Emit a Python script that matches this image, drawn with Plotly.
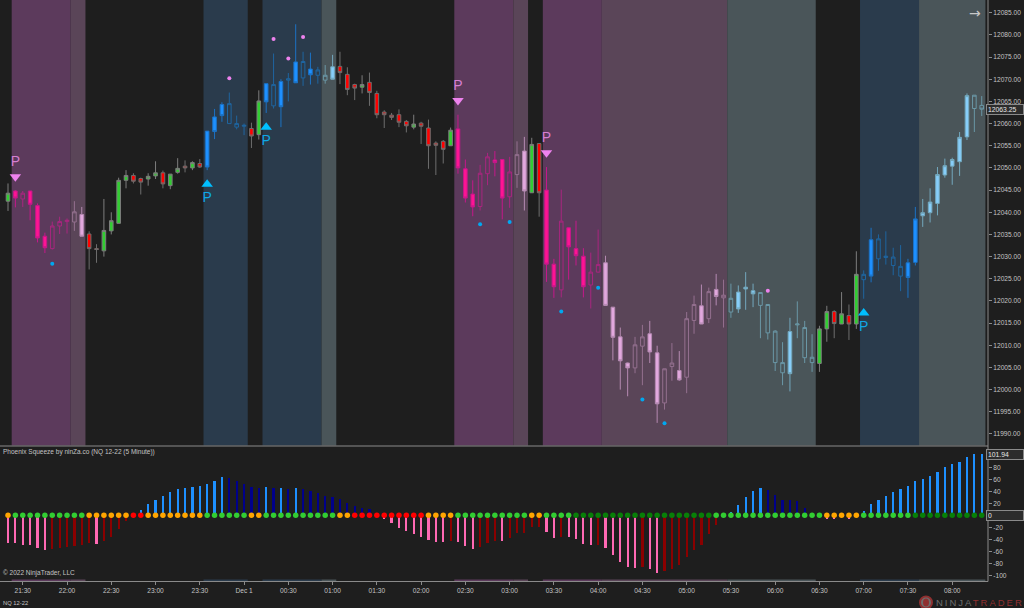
import plotly.graph_objects as go

# bar index -> 5 minute bars, 21:15 to 08:20
opens = [12042.5, 12044.8, 12043.0, 12044.8, 12041.5, 12034.6, 12031.8, 12036.9, 12037.9, 12037.8, 12039.5,
         12035.1, 12031.8, 12031.3, 12035.8, 12037.5, 12047.2, 12048.3, 12047.6, 12047.5, 12048.2, 12048.9,
         12046.0, 12049.0, 12050.4, 12050.0, 12051.0, 12058.3, 12061.5, 12064.3, 12060.0, 12059.2, 12059.4,
         12058.9, 12057.5, 12069.0, 12064.0, 12069.5, 12069.8, 12073.9, 12070.3, 12072.3, 12070.9, 12069.8,
         12072.8, 12072.9, 12071.1, 12068.8, 12068.2, 12069.3, 12066.8, 12062.6, 12061.9, 12062.0, 12060.5,
         12059.2, 12060.1, 12059.0, 12055.6, 12056.0, 12055.0, 12058.8, 12049.8, 12044.1, 12041.3, 12048.7,
         12051.8, 12051.9, 12043.5, 12048.5, 12053.8, 12044.4, 12055.5, 12045.0, 12028.3, 12022.5, 12036.5,
         12031.8, 12030.1, 12023.6, 12026.5, 12028.6, 12018.6, 12011.9, 12006.0, 12004.9, 12009.8, 12012.6,
         12008.3, 11997.0, 12005.2, 12004.3, 12002.8, 12015.6, 12018.9, 12016.0, 12022.6, 12020.7, 12017.5,
         12022.0, 12023.1, 12022.3, 12019.0, 12012.8, 12006.1, 12003.8, 12013.1, 12014.6, 12007.2, 12006.1,
         12005.9, 12013.7, 12017.6, 12014.8, 12016.7, 12014.8, 12024.8, 12033.8, 12029.5, 12029.8, 12028.0,
         12025.6, 12028.6, 12028.7, 12039.2, 12039.9, 12042.0, 12048.4, 12050.4, 12051.4, 12057.0, 12063.4,
         12064.1]
highs = [12046.5, 12045.0, 12044.8, 12044.8, 12042.0, 12035.4, 12037.9, 12039.0, 12038.6, 12042.5, 12041.2,
         12035.7, 12032.8, 12043.0, 12040.0, 12047.8, 12049.5, 12048.8, 12047.8, 12048.8, 12051.5, 12049.4,
         12048.6, 12052.2, 12051.7, 12051.5, 12052.0, 12058.3, 12063.3, 12064.8, 12067.0, 12061.8, 12060.0,
         12060.2, 12067.5, 12069.0, 12075.8, 12070.0, 12071.4, 12082.4, 12076.2, 12076.0, 12072.8, 12073.2,
         12075.5, 12076.2, 12072.7, 12069.0, 12070.9, 12071.5, 12067.4, 12063.0, 12062.4, 12063.2, 12060.8,
         12062.0, 12060.4, 12060.9, 12056.0, 12056.3, 12059.1, 12062.0, 12051.9, 12047.2, 12050.7, 12053.4,
         12053.8, 12051.9, 12052.5, 12056.0, 12057.0, 12056.8, 12055.5, 12050.2, 12029.5, 12045.1, 12036.6,
         12038.1, 12031.9, 12030.9, 12036.1, 12030.2, 12018.6, 12014.0, 12006.1, 12011.9, 12014.6, 12015.5,
         12009.9, 12004.7, 12010.5, 12008.7, 12017.5, 12021.2, 12023.7, 12023.0, 12026.1, 12024.8, 12023.9,
         12023.5, 12026.5, 12023.9, 12021.9, 12019.2, 12013.4, 12010.7, 12016.2, 12019.9, 12015.5, 12012.5,
         12014.4, 12018.9, 12017.9, 12022.0, 12019.2, 12031.2, 12026.9, 12036.5, 12035.0, 12035.7, 12032.0,
         12032.6, 12029.5, 12041.2, 12043.0, 12045.4, 12050.2, 12052.1, 12052.3, 12058.1, 12066.8, 12066.4,
         12066.2]
lows = [12040.3, 12041.1, 12041.2, 12038.2, 12033.2, 12030.8, 12031.6, 12035.1, 12035.2, 12035.8, 12034.6,
        12027.1, 12028.6, 12030.0, 12035.0, 12037.5, 12045.4, 12046.5, 12044.0, 12046.0, 12047.5, 12045.4,
        12045.2, 12048.7, 12049.0, 12049.5, 12050.0, 12049.5, 12056.5, 12060.4, 12060.0, 12058.7, 12057.4,
        12054.5, 12056.4, 12062.4, 12063.4, 12059.2, 12065.0, 12069.2, 12068.5, 12068.8, 12069.0, 12069.0,
        12070.0, 12068.9, 12066.4, 12065.3, 12066.8, 12064.0, 12061.2, 12059.0, 12060.8, 12059.2, 12058.0,
        12058.7, 12055.4, 12049.8, 12048.4, 12051.0, 12055.0, 12048.7, 12042.2, 12039.1, 12040.4, 12046.1,
        12048.1, 12038.4, 12041.0, 12045.5, 12040.4, 12044.4, 12039.0, 12024.3, 12020.7, 12020.8, 12024.8,
        12028.0, 12020.8, 12018.3, 12026.4, 12019.0, 12006.6, 12000.0, 11998.5, 12003.7, 12001.0, 12006.0,
        11992.5, 11995.5, 12002.0, 12002.0, 11999.2, 12012.6, 12014.8, 12015.0, 12019.0, 12014.0, 12016.2,
        12017.3, 12018.0, 12018.6, 12011.6, 12011.3, 12004.2, 12001.0, 11999.6, 12011.6, 12006.0, 12004.0,
        12004.0, 12010.8, 12011.6, 12014.8, 12011.2, 12013.7, 12020.5, 12024.2, 12026.8, 12028.2, 12025.8,
        12022.2, 12020.7, 12028.0, 12036.7, 12037.7, 12039.3, 12047.8, 12046.2, 12048.2, 12056.3, 12058.1,
        12061.7]
closes = [12044.3, 12043.2, 12044.3, 12041.8, 12034.2, 12032.0, 12036.9, 12037.9, 12038.2, 12040.1, 12034.6,
          12031.8, 12031.6, 12035.9, 12038.1, 12047.2, 12048.3, 12047.0, 12046.8, 12048.1, 12048.9, 12046.4,
          12048.6, 12049.9, 12050.0, 12051.2, 12050.2, 12050.2, 12058.2, 12061.8, 12064.5, 12060.0, 12059.6,
          12057.2, 12065.1, 12064.9, 12068.8, 12063.8, 12070.1, 12069.2, 12074.0, 12071.0, 12072.1, 12070.9,
          12070.0, 12071.5, 12067.7, 12068.0, 12068.8, 12067.0, 12062.0, 12062.0, 12061.4, 12060.3, 12059.5,
          12059.9, 12059.4, 12055.0, 12055.1, 12054.2, 12058.5, 12050.0, 12043.2, 12041.2, 12048.8, 12052.5,
          12051.2, 12043.2, 12049.1, 12053.0, 12044.8, 12055.3, 12044.4, 12028.3, 12023.2, 12038.0, 12032.2,
          12030.2, 12023.2, 12026.5, 12028.2, 12019.0, 12011.8, 12006.5, 12004.9, 12010.1, 12011.9, 12008.5,
          11996.8, 12004.7, 12006.0, 12002.2, 12016.0, 12019.2, 12014.8, 12022.1, 12021.0, 12021.3, 12020.6,
          12018.2, 12022.7, 12021.6, 12021.9, 12019.2, 12013.2, 12006.1, 12003.6, 12014.8, 12014.0, 12007.3,
          12013.7, 12017.6, 12014.9, 12017.1, 12014.8, 12026.0, 12026.0, 12025.6, 12034.0, 12030.1, 12029.9,
          12027.8, 12025.3, 12038.5, 12039.9, 12042.3, 12048.5, 12050.5, 12051.9, 12056.9, 12066.3, 12066.4,
          12063.25]
# G green R red P pink p pink hollow M mauve m mauve hollow B blue b blue hollow S sky s sky hollow
bar_state = list("GPpPPPpppm" "MRRGGGGRRG" "GRGGRGRBBB" "bbbRGBbBbB" "bBbsSRRRGR"
                 "RRRRRGRRRR" "GPPPppPPpm" "MGRPPpPPPp" "pMMMMmmMMm" "mMmmMmMmsS"
                 "SSssssSsss" "GGRGRGbBbb" "bbBBSSSSSS" "Sss")

tick_bars = list(range(2, 133, 6))
tick_text = ["21:30", "22:00", "22:30", "23:00", "23:30", "Dec 1", "00:30", "01:00", "01:30", "02:00", "02:30",
             "03:00", "03:30", "04:00", "04:30", "05:00", "05:30", "06:00", "06:30", "07:00", "07:30", "08:00"]

# shaded zones: first bar edge, last bar edge, kind
zone_start = [0.5, 8.5, 26.5, 34.5, 42.5, 60.5, 68.5, 72.5, 80.5, 97.5, 115.5, 123.5]
zone_end = [8.5, 10.5, 32.5, 42.5, 44.5, 68.5, 70.5, 80.5, 97.5, 109.5, 123.5, 132.5]
zone_kind = ["bear", "bear_weak", "bull", "bull", "bull_weak", "bear", "bear_weak", "bear", "bear_weak",
             "bull_weak", "bull", "bull_weak"]

sell_bars = [1, 61, 73]
sell_prices = [12048.0, 12065.2, 12053.4]
buy_bars = [27, 35, 116]
buy_prices = [12046.3, 12059.2, 12017.3]
hi_dot_bars = [30, 36, 38, 40, 103]
hi_dot_prices = [12070.25, 12079.1, 12074.7, 12079.5, 12022.3]
lo_dot_bars = [6, 64, 68, 75, 80, 86, 89]
lo_dot_prices = [12028.4, 12037.3, 12037.8, 12017.6, 12023.0, 11997.8, 11992.4]

hist_vals = [-45.6, -46.7, -49, -49.4, -54, -58, -56, -54, -52.8, -50.6, -49.4, -46, -47.8, -42.8, -36, -22.8, -10,
             0.5, 9.4, 18.3, 26, 31.7, 38.3, 43.3, 45.6, 47.8, 48.3, 52.8, 57.8, 63.9, 62.2, 57.8, 52.8, 46.7, 45,
             47.8, 45, 45, 43.9, 45.6, 43.3, 40.6, 37.2, 32.8, 30, 26.7, 20, 16, 12.8, 10.6, -0.5, -5.6, -12.2, -21,
             -26.7, -30.6, -35.6, -40.6, -43.9, -43.9, -42.2, -44.4, -50.6, -56, -53.3, -46.7, -42.2, -42.8, -37.2,
             -29.4, -28.9, -20, -18.9, -27.2, -37.2, -35.6, -36, -39.4, -47.2, -49.4, -48.9, -55, -66, -78.3, -86,
             -87.8, -86, -88.9, -95.6, -92.8, -89.4, -82.8, -70, -57.2, -50, -31.7, -16, 0.4, 5.6, 17.2, 31, 40, 45,
             42.2, 33.9, 25.6, 25.6, 23.9, 12.2, 0.4, -0.4, -6.7, -7, -0.5, -7, 0.5, 7.8, 19.4, 26, 32.8, 39.4, 43.3,
             48.3, 56.7, 61, 65.6, 72.8, 81, 85.6, 88.3, 96.7, 101.7, 101.94]
hist_state = list("P" * 6 + "R" * 6 + "P" + "R" * 4 + "B" * 13 + "N" * 5 + "BNBNB" + "N" * 10 + "R" + "P" * 9 + "R"
                  + "PPP" + "RRR" + "P" + "R" * 5 + "PP" + "R" + "PPPP" + "R" + "P" * 5 + "R" + "PP" + "R" * 8
                  + "B" * 6 + "N" * 6 + "B" + "P" * 5 + "B" * 18)
dot_state = list("o" + "g" * 10 + "o" * 6 + "rr" + "o" * 8 + "g" * 6 + "oo" + "g" * 10 + "oo" + "r" * 10 + "o" * 4
                 + "g" * 10 + "oo" + "g" * 4 + "d" * 19 + "g" * 15 + "o" * 5 + "g" * 7 + "d" * 10)

n_bars = len(closes)
assert {len(opens), len(highs), len(lows), len(bar_state), len(hist_vals), len(hist_state), len(dot_state)} == {n_bars}

FONT = "Liberation Sans"
BG = "#1e1e1e"
AXIS = "#8a8a8a"
LABEL = "#c4c4c4"
candle_style = {
    "G": ("#7d7d7d", "#32cd32"),
    "R": ("#6e6e6e", "#ff0000"),
    "P": ("#c4188a", "#ff1493"),
    "p": ("#a8267f", "rgba(0,0,0,0)"),
    "M": ("#b58ab2", "#e2a8de"),
    "m": ("#94708f", "rgba(0,0,0,0)"),
    "B": ("#1c72c4", "#1e90ff"),
    "b": ("#1f659f", "rgba(0,0,0,0)"),
    "S": ("#73a8bd", "#87cefa"),
    "s": ("#6a97a6", "rgba(0,0,0,0)"),
}
zone_fill = {"bear": "#5c3a5c", "bear_weak": "#5a4558", "bull": "#2a3b4c", "bull_weak": "#4a5559"}
hist_fill = {"B": "#1e90ff", "N": "#00008b", "P": "#ff69b4", "R": "#8b0000"}
dot_fill = {"o": "#ffa500", "g": "#32cd32", "d": "#087f08", "r": "#ff0000"}

fig = go.Figure()

# price pane
for state, (line, fill) in candle_style.items():
    idx = [i for i in range(n_bars) if bar_state[i] == state]
    fig.add_trace(go.Candlestick(
        x=idx,
        open=[opens[i] for i in idx], high=[highs[i] for i in idx],
        low=[lows[i] for i in idx], close=[closes[i] for i in idx],
        increasing=dict(line=dict(color=line, width=1), fillcolor=fill),
        decreasing=dict(line=dict(color=line, width=1), fillcolor=fill),
        whiskerwidth=0, showlegend=False, xaxis="x", yaxis="y",
    ))

fig.add_trace(go.Scatter(x=sell_bars, y=sell_prices, mode="markers+text", text=["P"] * 3,
                         textposition="top center", textfont=dict(family=FONT, size=14, color="#d67fd2"),
                         marker=dict(symbol="triangle-down", size=10, color="#ee82ee"),
                         showlegend=False, xaxis="x", yaxis="y"))
fig.add_trace(go.Scatter(x=buy_bars, y=buy_prices, mode="markers+text", text=["P"] * 3,
                         textposition="bottom center", textfont=dict(family=FONT, size=14, color="#0fa8e6"),
                         marker=dict(symbol="triangle-up", size=10, color="#00bfff"),
                         showlegend=False, xaxis="x", yaxis="y"))
fig.add_trace(go.Scatter(x=hi_dot_bars, y=hi_dot_prices, mode="markers", marker=dict(size=4, color="#ee82ee"),
                         showlegend=False, xaxis="x", yaxis="y"))
fig.add_trace(go.Scatter(x=lo_dot_bars, y=lo_dot_prices, mode="markers", marker=dict(size=4, color="#00a8f0"),
                         showlegend=False, xaxis="x", yaxis="y"))

# squeeze pane
fig.add_trace(go.Bar(x=list(range(n_bars)), y=hist_vals, width=0.3,
                     marker=dict(color=[hist_fill[s] for s in hist_state], line_width=0),
                     showlegend=False, xaxis="x2", yaxis="y2"))
fig.add_trace(go.Scatter(x=list(range(n_bars)), y=[0] * n_bars, mode="markers",
                         marker=dict(size=5.5, color=[dot_fill[s] for s in dot_state]),
                         showlegend=False, xaxis="x2", yaxis="y2"))

shapes = []
for start, end, kind in zip(zone_start, zone_end, zone_kind):
    shapes.append(dict(type="rect", xref="x", yref="paper", x0=start, x1=end, y0=1 - 445.5 / 608, y1=1,
                       fillcolor=zone_fill[kind], line_width=0, layer="below"))
    shapes.append(dict(type="rect", xref="x", yref="paper", x0=start, x1=end, y0=1 - 581 / 608, y1=1 - 579.5 / 608,
                       fillcolor=zone_fill[kind], line_width=0, layer="below"))
# pane frames
shapes.append(dict(type="line", xref="paper", yref="paper", x0=0, x1=988 / 1024, y0=1 - 446 / 608, y1=1 - 446 / 608,
                   line=dict(color=AXIS, width=1)))
shapes.append(dict(type="line", xref="paper", yref="paper", x0=0, x1=988 / 1024, y0=1 - 581.5 / 608, y1=1 - 581.5 / 608,
                   line=dict(color=AXIS, width=1)))
shapes.append(dict(type="line", xref="paper", yref="paper", x0=988 / 1024, x1=988 / 1024, y0=1 - 581.5 / 608, y1=1,
                   line=dict(color=AXIS, width=1)))
# logo mark
shapes.append(dict(type="circle", xref="paper", yref="paper", x0=920 / 1024, x1=932 / 1024,
                   y0=1 - 608.5 / 608, y1=1 - 596.5 / 608, fillcolor="#6e6e6e", line=dict(color="#8f3030", width=2)))
shapes.append(dict(type="circle", xref="paper", yref="paper", x0=923 / 1024, x1=929 / 1024,
                   y0=1 - 606.5 / 608, y1=1 - 598.5 / 608, fillcolor="#8f3030", line_width=0))


def note(text, x, y, size=6.5, color=LABEL, anchor="left", family=FONT):
    return dict(text=text, xref="paper", yref="paper", x=x / 1024, y=1 - y / 608, xanchor=anchor, yanchor="middle",
                showarrow=False, font=dict(family=family, size=size, color=color))


def tag(text, yref, y):
    return dict(text=text, xref="paper", yref=yref, x=1, y=y, xanchor="right", yanchor="middle", showarrow=False,
                font=dict(family=FONT, size=6.8, color="#e6e6e6"), bgcolor="#2c2c2c", bordercolor="#8a8a8a",
                borderwidth=1, borderpad=1, width=34, align="left")


annotations = [
    note("Phoenix Squeeze by ninZa.co (NQ 12-22 (5 Minute))", 1, 452.5),
    note("© 2022 NinjaTrader, LLC", 1, 573),
    note("NQ 12-22", 1, 602.5, size=5.8),
    note("→", 975, 12.5, size=14, color="#c8c8c8", anchor="center", family="DejaVu Sans"),
    note('<span style="color:#6e6e6e;letter-spacing:2px">NINJA</span>'
         '<span style="color:#8f3030;letter-spacing:2px">TRADER</span>', 934, 602.5, size=9.5),
    tag("12063.25", "y", closes[-1]),
    tag("101.94", "y2", hist_vals[-1]),
    tag("0", "y2", 0),
]

fig.update_layout(
    width=1024, height=608, margin=dict(l=0, r=0, t=0, b=0),
    paper_bgcolor=BG, plot_bgcolor=BG, font=dict(family=FONT, size=6.5, color=LABEL),
    showlegend=False, boxmode="overlay", bargap=0,
    shapes=shapes, annotations=annotations,
    xaxis=dict(domain=[0, 988 / 1024], range=[-1.085, 132.85], anchor="y", showticklabels=False, showgrid=False,
               zeroline=False, rangeslider=dict(visible=False), ticks=""),
    yaxis=dict(domain=[1 - 445.5 / 608, 1], range=[11987.4, 12087.87], side="right", anchor="x",
               tickvals=list(range(11990, 12086, 5)), ticktext=[f"{v}.00" for v in range(11990, 12086, 5)],
               showgrid=False, zeroline=False, ticks="outside", ticklen=3, tickcolor=AXIS,
               tickfont=dict(family=FONT, size=6.6, color=LABEL)),
    xaxis2=dict(domain=[0, 988 / 1024], range=[-1.085, 132.85], anchor="y2", tickvals=tick_bars, ticktext=tick_text,
                showgrid=False, zeroline=False, ticks="outside", ticklen=3, tickcolor=AXIS,
                tickfont=dict(family=FONT, size=6.6, color=LABEL)),
    yaxis2=dict(domain=[1 - 581 / 608, 1 - 447 / 608], range=[-109.5, 113.8], side="right", anchor="x2",
                tickvals=list(range(-100, 81, 20)),
                ticktext=[str(v) if v else "" for v in range(-100, 81, 20)],
                showgrid=False, zeroline=False, ticks="outside", ticklen=3, tickcolor=AXIS,
                tickfont=dict(family=FONT, size=6.6, color=LABEL)),
)

fig.write_html("out.html", config={"displayModeBar": False}, post_script="document.body.style.margin='0';")
